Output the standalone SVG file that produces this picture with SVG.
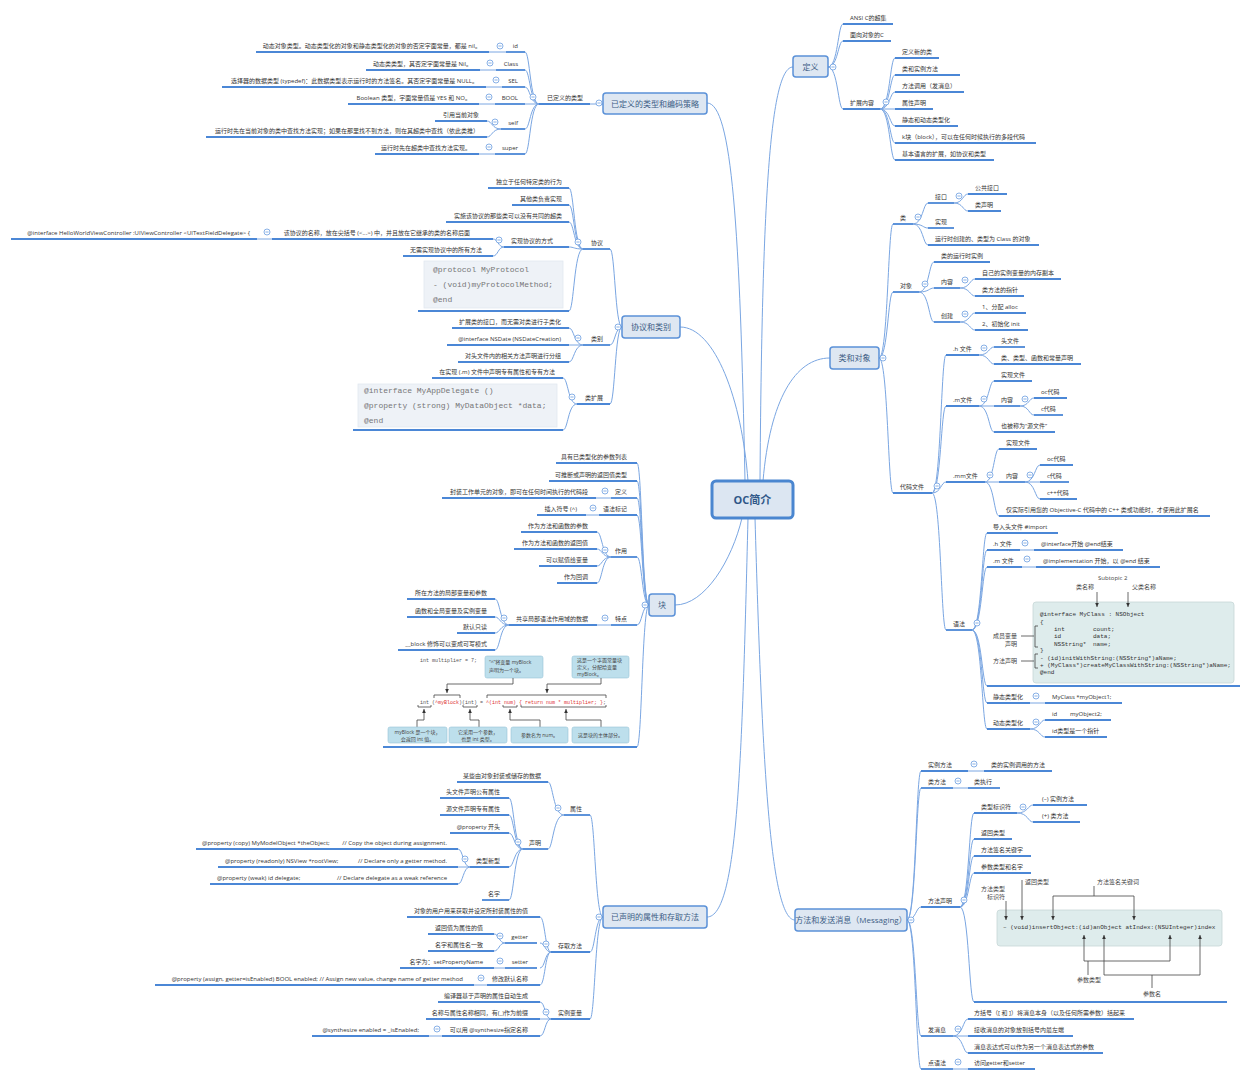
<svg xmlns="http://www.w3.org/2000/svg" width="1251" height="1080" viewBox="0 0 1251 1080">
<style>
text{font-family:"Open Sans","Noto Sans CJK SC",sans-serif;}
.t{font-size:6px;fill:#333;}
.e{text-anchor:end;}
.m{text-anchor:middle;}
.u{stroke:#4b87d6;stroke-width:1.8;fill:none;}
.c{stroke:#7aa6e2;stroke-width:1;fill:none;}
.mt{fill:#dee7f2;stroke:#5b91d8;stroke-width:1.5;}
.mtt{font-size:8px;fill:#3d5d85;text-anchor:middle;}
.code{font-family:"Liberation Mono",monospace;}
.pc{font-size:8px;fill:#777;}
.cc{font-size:6px;fill:#333;}
.box{fill:#deecec;stroke:#c7d7d7;stroke-width:0.8;}
.cb{fill:#eef2f7;stroke:#e2e8ef;stroke-width:0.8;}
.bb{fill:#bddfec;stroke:#98c4d6;stroke-width:0.6;}
.bt{font-size:5px;fill:#444;}
.ar{stroke:#444;stroke-width:0.8;fill:none;}
.gl{font-size:6px;fill:#444;}
</style>
<defs>
<g id="col"><circle r="3" fill="#fff" stroke="#6b9de0" stroke-width="0.8"/><line x1="-1.6" y1="0" x2="1.6" y2="0" stroke="#6b9de0" stroke-width="0.8"/></g>
<marker id="ah" markerWidth="5" markerHeight="5" refX="4" refY="2.5" orient="auto" markerUnits="userSpaceOnUse"><path d="M0,0.7 L4,2.5 L0,4.3 z" fill="#333"/></marker>
</defs>
<rect width="1251" height="1080" fill="#fff"/>

<g id="connectors">
<path class="c" d="M760,481 C762,200 770,67 793,67"/>
<path class="c" d="M745,481 C740,230 732,103 707,103"/>
<path class="c" d="M748,481 C742,400 715,327 680,327"/>
<path class="c" d="M763,481 C770,400 795,358 830,358"/>
<path class="c" d="M742,518 C732,560 705,605 675,605"/>
<path class="c" d="M748,518 C742,760 738,917 707,917"/>
<path class="c" d="M755,518 C762,760 770,920 795,920"/>

<path class="c" d="M828,67 C838,67 838,24 843,24 M828,67 C838,67 838,41 843,41 M828,67 C838,67 838,109 843,109"/>
<path class="c" d="M880,109 C890,109 890,58 895,58 M880,109 C890,109 890,75 895,75 M880,109 C890,109 890,92 895,92 M880,109 H895 M880,109 C890,109 890,126 895,126 M880,109 C890,109 890,143 895,143 M880,109 C890,109 890,160 895,160"/>

<path class="c" d="M603,104 H590"/>
<path class="c" d="M539,104 C530,104 530,52 525,52 M539,104 C530,104 530,70 525,70 M539,104 C530,104 530,87 525,87 M539,104 H525 M539,104 C530,104 530,129 525,129 M539,104 C530,104 530,154 525,154"/>
<path class="c" d="M506,52H489 M496,70H480 M502,87H486 M495,104H479 M495,154H479"/>
<path class="c" d="M501,129 C492,129 492,121 487,121 M501,129 C492,129 492,137 487,137"/>

<path class="c" d="M622,327 C615,327 615,249 610,249 M622,327 C615,327 615,345 610,345 M622,327 C615,327 615,404 610,404"/>
<path class="c" d="M583,249 C574,249 574,188 569,188 M583,249 C574,249 574,205 569,205 M583,249 C574,249 574,222 569,222 M583,249 C574,249 574,247 569,247 M583,249 C574,249 574,311 569,311"/>
<path class="c" d="M504,247 C498,247 498,239 493,239 M504,247 C498,247 498,256 493,256 M272,239H257"/>
<path class="c" d="M583,345 C574,345 574,328 569,328 M583,345 H569 M583,345 C574,345 574,362 569,362"/>
<path class="c" d="M577,404 C568,404 568,378 563,378 M577,404 C568,404 568,430 563,430"/>

<path class="c" d="M649,605 C642,605 642,463 637,463 M649,605 C642,605 642,481 637,481 M649,605 C642,605 642,498 637,498 M649,605 C642,605 642,515 637,515 M649,605 C642,605 642,557 637,557 M649,605 C642,605 642,625 637,625 M649,605 C642,605 642,747 637,747"/>
<path class="c" d="M611,498H596 M599,515H586 M611,625H597"/>
<path class="c" d="M611,557 C602,557 602,532 597,532 M611,557 C602,557 602,549 597,549 M611,557 C602,557 602,566 597,566 M611,557 C602,557 602,583 597,583"/>
<path class="c" d="M509,625 C500,625 500,599 495,599 M509,625 C500,625 500,617 495,617 M509,625 C500,625 500,633 495,633 M509,625 C500,625 500,650 495,650"/>

<path class="c" d="M603,917 C595,917 595,815 590,815 M603,917 C595,917 595,952 590,952 M603,917 C595,917 595,1019 590,1019"/>
<path class="c" d="M564,815 C553,815 553,782 548,782 M564,815 C553,815 553,849 548,849"/>
<path class="c" d="M523,849 C514,849 514,798 509,798 M523,849 C514,849 514,815 509,815 M523,849 C514,849 514,833 509,833 M523,849 C514,849 514,867 509,867 M523,849 C514,849 514,900 509,900"/>
<path class="c" d="M470,867 C463,867 463,849 458,849 M470,867 H458 M470,867 C463,867 463,884 458,884"/>
<path class="c" d="M551,952 C545,952 545,917 540,917 M551,952 C545,952 545,943 540,943 M551,952 C545,952 545,968 540,968 M551,952 C545,952 545,985 540,985"/>
<path class="c" d="M505,943 C499,943 499,934 494,934 M505,943 C499,943 499,951 494,951 M505,968H494 M487,985H474"/>
<path class="c" d="M551,1019 C545,1019 545,1002 540,1002 M551,1019 H540 M551,1019 C545,1019 545,1036 540,1036 M442,1036H429"/>

<path class="c" d="M879,358 C888,358 888,224 893,224 M879,358 C888,358 888,292 893,292 M879,358 C888,358 888,493 893,493"/>
<path class="c" d="M913,224 C923,224 923,203 928,203 M913,224 C923,224 923,228 928,228 M913,224 C923,224 923,245 928,245"/>
<path class="c" d="M954,203 C963,203 963,194 968,194 M954,203 C963,203 963,211 968,211"/>
<path class="c" d="M919,292 C929,292 929,262 934,262 M919,292 C929,292 929,288 934,288 M919,292 C929,292 929,322 934,322"/>
<path class="c" d="M960,288 C970,288 970,279 975,279 M960,288 C970,288 970,296 975,296 M960,322 C970,322 970,313 975,313 M960,322 C970,322 970,330 975,330"/>
<path class="c" d="M932,493 C941,493 941,355 946,355 M932,493 C941,493 941,406 946,406 M932,493 C941,493 941,482 946,482 M932,493 C941,493 941,630 946,630"/>
<path class="c" d="M979,355 C989,355 989,347 994,347 M979,355 C989,355 989,364 994,364"/>
<path class="c" d="M979,406 C989,406 989,381 994,381 M979,406 H994 M979,406 C989,406 989,432 994,432"/>
<path class="c" d="M1020,406 C1029,406 1029,398 1034,398 M1020,406 C1029,406 1029,415 1034,415"/>
<path class="c" d="M985,482 C994,482 994,449 999,449 M985,482 H999 M985,482 C994,482 994,516 999,516"/>
<path class="c" d="M1025,482 C1035,482 1035,465 1040,465 M1025,482 H1040 M1025,482 C1035,482 1035,499 1040,499"/>
<path class="c" d="M972,630 C982,630 982,533 987,533 M972,630 C982,630 982,550 987,550 M972,630 C982,630 982,567 987,567 M972,630 C982,630 982,686 987,686 M972,630 C982,630 982,703 987,703 M972,630 C982,630 982,729 987,729"/>
<path class="c" d="M1020,550H1034 M1022,567H1036 M1030,703H1045"/>
<path class="c" d="M1030,729 C1040,729 1040,720 1045,720 M1030,729 C1040,729 1040,737 1045,737"/>

<path class="c" d="M907,920 C916,920 916,771 921,771 M907,920 C916,920 916,788 921,788 M907,920 C916,920 916,907 921,907 M907,920 C916,920 916,1036 921,1036 M907,920 C916,920 916,1069 921,1069"/>
<path class="c" d="M968,771H984 M953,788H968 M953,1069H968"/>
<path class="c" d="M960,907 C969,907 969,813 974,813 M960,907 C969,907 969,839 974,839 M960,907 C969,907 969,856 974,856 M960,907 C969,907 969,873 974,873 M960,907 C969,907 969,1002 974,1002"/>
<path class="c" d="M1017,813 C1028,813 1028,805 1033,805 M1017,813 C1028,813 1028,822 1033,822"/>
<path class="c" d="M953,1036 C963,1036 963,1019 968,1019 M953,1036 H968 M953,1036 C963,1036 963,1053 968,1053"/>
</g>

<g id="center"><rect x="712" y="481" width="81" height="37" rx="4" fill="#dce6f2" stroke="#4a86d0" stroke-width="3"/><text x="752.5" y="503.5" font-size="11" font-weight="bold" fill="#2f5788" text-anchor="middle">OC简介</text></g>

<g id="topic-def"><rect class="mt" x="793" y="56" width="35" height="21" rx="3"/><text class="mtt" x="810.5" y="69.5">定义</text><use href="#col" x="833" y="67"/></g>
<g id="n-ansi"><path class="u" d="M843,24H893"/><text class="t" x="850" y="20">ANSI C的超集</text></g>
<g id="n-ooc"><path class="u" d="M843,41H891"/><text class="t" x="850" y="37">面向对象的C</text></g>
<g id="n-ext"><path class="u" d="M843,109H880"/><text class="t" x="850" y="105">扩展内容</text><use href="#col" x="886" y="102"/></g>
<g id="n-ext1"><path class="u" d="M895,58H939"/><text class="t" x="902" y="54">定义新的类</text></g>
<g id="n-ext2"><path class="u" d="M895,75H960"/><text class="t" x="902" y="71">类和实例方法</text></g>
<g id="n-ext3"><path class="u" d="M895,92H964"/><text class="t" x="902" y="88">方法调用（发消息）</text></g>
<g id="n-ext4"><path class="u" d="M895,109H933"/><text class="t" x="902" y="105">属性声明</text></g>
<g id="n-ext5"><path class="u" d="M895,126H958"/><text class="t" x="902" y="122">静态和动态类型化</text></g>
<g id="n-ext6"><path class="u" d="M895,143H1036"/><text class="t" x="902" y="139">k块（block），可以在任何时候执行的多段代码</text></g>
<g id="n-ext7"><path class="u" d="M895,160H994"/><text class="t" x="902" y="156">基本语言的扩展，如协议和类型</text></g>

<g id="topic-types"><rect class="mt" x="603" y="93" width="104" height="21" rx="3"/><text class="mtt" x="655" y="106.5">已定义的类型和编码策略</text><use href="#col" x="599" y="103"/></g>
<g id="n-deftypes"><path class="u" d="M539,104H590"/><text class="t e" x="583" y="100">已定义的类型</text><use href="#col" x="533" y="97"/></g>
<g id="n-id"><path class="u" d="M506,52H525"/><text class="t e" x="518" y="48">id</text><use href="#col" x="500" y="46"/></g>
<g id="n-id-d"><path class="u" d="M256,52H489"/><text class="t e" x="481" y="48">动态对象类型。动态类型化的对象和静态类型化的对象的否定字面常量，都是 nil。</text></g>
<g id="n-class"><path class="u" d="M496,70H525"/><text class="t e" x="518" y="66">Class</text><use href="#col" x="490" y="63"/></g>
<g id="n-class-d"><path class="u" d="M366,70H480"/><text class="t e" x="472" y="66">动态类类型，其否定字面常量是 Nil。</text></g>
<g id="n-sel"><path class="u" d="M502,87H525"/><text class="t e" x="518" y="83">SEL</text><use href="#col" x="496" y="80"/></g>
<g id="n-sel-d"><path class="u" d="M222,87H486"/><text class="t e" x="478" y="83">选择器的数据类型 (typedef)：此数据类型表示运行时的方法签名。其否定字面常量是 NULL。</text></g>
<g id="n-bool"><path class="u" d="M495,104H525"/><text class="t e" x="518" y="100">BOOL</text><use href="#col" x="489" y="97"/></g>
<g id="n-bool-d"><path class="u" d="M348,104H479"/><text class="t e" x="471" y="100">Boolean 类型，字面常量值是 YES 和 NO。</text></g>
<g id="n-self"><path class="u" d="M501,129H525"/><text class="t e" x="518" y="125">self</text><use href="#col" x="495" y="122"/></g>
<g id="n-self-1"><path class="u" d="M435,121H487"/><text class="t e" x="479" y="117">引用当前对象</text></g>
<g id="n-self-2"><path class="u" d="M206,137H487"/><text class="t e" x="479" y="133">运行时先在当前对象的类中查找方法实现；如果在那里找不到方法，则在其超类中查找（依此类推）</text></g>
<g id="n-super"><path class="u" d="M495,154H525"/><text class="t e" x="518" y="150">super</text><use href="#col" x="489" y="147"/></g>
<g id="n-super-d"><path class="u" d="M375,154H479"/><text class="t e" x="471" y="150">运行时先在超类中查找方法实现。</text></g>

<g id="topic-proto"><rect class="mt" x="622" y="316" width="58" height="22" rx="3"/><text class="mtt" x="651" y="330">协议和类别</text><use href="#col" x="618" y="327"/></g>
<g id="n-proto"><path class="u" d="M583,249H610"/><text class="t e" x="603" y="245">协议</text><use href="#col" x="578" y="242"/></g>
<g id="n-p1"><path class="u" d="M488,188H569"/><text class="t e" x="562" y="184">独立于任何特定类的行为</text></g>
<g id="n-p2"><path class="u" d="M512,205H569"/><text class="t e" x="562" y="201">其他类负责实现</text></g>
<g id="n-p3"><path class="u" d="M446,222H569"/><text class="t e" x="562" y="218">实施该协议的那些类可以没有共同的超类</text></g>
<g id="n-p4"><path class="u" d="M504,247H569"/><text class="t e" x="553" y="243">实现协议的方式</text><use href="#col" x="499" y="240"/></g>
<g id="n-p4a"><path class="u" d="M272,239H493"/><text class="t e" x="470" y="235">该协议的名称，放在尖括号 (&lt;...&gt;) 中，并且放在它继承的类的名称后面</text><use href="#col" x="267" y="232"/></g>
<g id="n-p4a1"><path class="u" d="M11,239H257"/><text class="t e" x="250" y="235">@interface HelloWorldViewController :UIViewController &lt;UITextFieldDelegate&gt; {</text></g>
<g id="n-p4b"><path class="u" d="M403,256H493"/><text class="t e" x="482" y="252">无需实现协议中的所有方法</text></g>
<g id="n-p5"><path class="u" d="M418,311H569"/><rect class="cb" x="424" y="261" width="139" height="47"/><text class="code pc" x="433" y="272">@protocol MyProtocol</text><text class="code pc" x="433" y="287">- (void)myProtocolMethod;</text><text class="code pc" x="433" y="302">@end</text></g>
<g id="n-cat"><path class="u" d="M583,345H610"/><text class="t e" x="603" y="341">类别</text><use href="#col" x="578" y="338"/></g>
<g id="n-c1"><path class="u" d="M452,328H569"/><text class="t e" x="561" y="324">扩展类的接口，而无需对类进行子类化</text></g>
<g id="n-c2"><path class="u" d="M447,345H569"/><text class="t e" x="561" y="341">@interface NSDate (NSDateCreation)</text></g>
<g id="n-c3"><path class="u" d="M458,362H569"/><text class="t e" x="561" y="358">对头文件内的相关方法声明进行分组</text></g>
<g id="n-cext"><path class="u" d="M577,404H610"/><text class="t e" x="603" y="400">类扩展</text><use href="#col" x="572" y="397"/></g>
<g id="n-ce1"><path class="u" d="M432,378H563"/><text class="t e" x="555" y="374">在实现 (.m) 文件中声明专有属性和专有方法</text></g>
<g id="n-ce2"><path class="u" d="M353,430H563"/><rect class="cb" x="358" y="384" width="199" height="43"/><text class="code pc" x="364" y="393">@interface MyAppDelegate ()</text><text class="code pc" x="364" y="408">@property (strong) MyDataObject *data;</text><text class="code pc" x="364" y="423">@end</text></g>

<g id="topic-block"><rect class="mt" x="649" y="594" width="26" height="22" rx="3"/><text class="mtt" x="662" y="608">块</text><use href="#col" x="645" y="605"/></g>
<g id="n-b1"><path class="u" d="M556,463H637"/><text class="t e" x="627" y="459">具有已类型化的参数列表</text></g>
<g id="n-b2"><path class="u" d="M549,481H637"/><text class="t e" x="627" y="477">可推断或声明的返回值类型</text></g>
<g id="n-b3"><path class="u" d="M611,498H637"/><text class="t e" x="627" y="494">定义</text><use href="#col" x="605" y="491"/></g>
<g id="n-b3a"><path class="u" d="M442,498H596"/><text class="t e" x="588" y="494">封装工作单元的对象，即可在任何时间执行的代码段</text></g>
<g id="n-b4"><path class="u" d="M599,515H637"/><text class="t e" x="627" y="511">语法标记</text><use href="#col" x="593" y="508"/></g>
<g id="n-b4a"><path class="u" d="M537,515H586"/><text class="t e" x="577" y="511">插入符号 (^)</text></g>
<g id="n-b5"><path class="u" d="M611,557H637"/><text class="t e" x="627" y="553">作用</text><use href="#col" x="605" y="550"/></g>
<g id="n-b5a"><path class="u" d="M521,532H597"/><text class="t e" x="588" y="528">作为方法和函数的参数</text></g>
<g id="n-b5b"><path class="u" d="M514,549H597"/><text class="t e" x="588" y="545">作为方法和函数的返回值</text></g>
<g id="n-b5c"><path class="u" d="M539,566H597"/><text class="t e" x="588" y="562">可以赋值给变量</text></g>
<g id="n-b5d"><path class="u" d="M557,583H597"/><text class="t e" x="588" y="579">作为回调</text></g>
<g id="n-b6"><path class="u" d="M611,625H637"/><text class="t e" x="627" y="621">特点</text><use href="#col" x="605" y="618"/></g>
<g id="n-b6a"><path class="u" d="M509,625H597"/><text class="t e" x="588" y="621">共享局部语法作用域的数据</text><use href="#col" x="504" y="618"/></g>
<g id="n-b6a1"><path class="u" d="M407,599H495"/><text class="t e" x="487" y="595">所在方法的局部变量和参数</text></g>
<g id="n-b6a2"><path class="u" d="M407,617H495"/><text class="t e" x="487" y="613">函数和全局变量及实例变量</text></g>
<g id="n-b6a3"><path class="u" d="M457,633H495"/><text class="t e" x="487" y="629">默认只读</text></g>
<g id="n-b6a4"><path class="u" d="M398,650H495"/><text class="t e" x="487" y="646">__block 修饰可以变成可写模式</text></g>
<g id="n-block-code">
<path class="u" d="M383,747H637"/>
<text class="code" font-size="5" fill="#555" x="420" y="662">int multiplier = 7;</text>
<rect class="bb" x="485" y="656" width="58" height="22" rx="2"/>
<text class="bt" x="489" y="664">“^”将变量 myBlock</text>
<text class="bt" x="489" y="672">声明为一个块。</text>
<rect class="bb" x="572" y="656" width="57" height="22" rx="2"/>
<text class="bt" x="577" y="662">这是一个字面常量块</text>
<text class="bt" x="577" y="669">定义，分配给变量</text>
<text class="bt" x="577" y="676">myBlock。</text>
<path class="ar" d="M513,678V684H447V693" marker-end="url(#ah)"/>
<path class="ar" d="M601,678V684H547V693" marker-end="url(#ah)"/>
<path class="ar" d="M434,698V695H460V698 M487,698V695H606V698"/>
<text class="code" font-size="5" fill="#555" x="420" y="704" xml:space="preserve">int (<tspan fill="#d33">^myBlock</tspan>)(int) = <tspan fill="#d33">^(int num) { return num * multiplier; }</tspan>;</text>
<path class="ar" d="M418,705V707H431V705 M463,705V707H477V705 M503,705V707H517V705 M521,705V707H606V705"/>
<path class="ar" d="M417,727V720H424V709" marker-end="url(#ah)"/>
<path class="ar" d="M479,727V720H470V709" marker-end="url(#ah)"/>
<path class="ar" d="M540,727V720H510V709" marker-end="url(#ah)"/>
<path class="ar" d="M601,727V720H566V709" marker-end="url(#ah)"/>
<rect class="bb" x="388" y="727" width="59" height="16" rx="2"/>
<text class="bt m" x="417.5" y="734">myBlock 是一个块，</text>
<text class="bt m" x="417.5" y="741">会返回 int 值。</text>
<rect class="bb" x="449" y="727" width="58" height="16" rx="2"/>
<text class="bt m" x="478" y="734">它采用一个参数，</text>
<text class="bt m" x="478" y="741">也是 int 类型。</text>
<rect class="bb" x="511" y="727" width="57" height="16" rx="2"/>
<text class="bt m" x="539.5" y="737">参数名为 num。</text>
<rect class="bb" x="572" y="727" width="57" height="16" rx="2"/>
<text class="bt m" x="600.5" y="737">这是块的主体部分。</text>
</g>

<g id="topic-prop"><rect class="mt" x="603" y="906" width="104" height="22" rx="3"/><text class="mtt" x="655" y="920">已声明的属性和存取方法</text><use href="#col" x="599" y="917"/></g>
<g id="n-attr"><path class="u" d="M564,815H590"/><text class="t e" x="582" y="811">属性</text><use href="#col" x="558" y="808"/></g>
<g id="n-attr1"><path class="u" d="M457,782H548"/><text class="t e" x="541" y="778">某些由对象封装或储存的数据</text></g>
<g id="n-decl"><path class="u" d="M523,849H548"/><text class="t e" x="541" y="845">声明</text><use href="#col" x="518" y="842"/></g>
<g id="n-decl1"><path class="u" d="M440,798H509"/><text class="t e" x="500" y="794">头文件声明公有属性</text></g>
<g id="n-decl2"><path class="u" d="M440,815H509"/><text class="t e" x="500" y="811">源文件声明专有属性</text></g>
<g id="n-decl3"><path class="u" d="M450,833H509"/><text class="t e" x="500" y="829">@property 开头</text></g>
<g id="n-decl4"><path class="u" d="M470,867H509"/><text class="t e" x="500" y="863">类型新型</text><use href="#col" x="465" y="859"/></g>
<g id="n-decl4a"><path class="u" d="M196,849H458"/><text class="t" x="202" y="845">@property (copy) MyModelObject *theObject;</text><text class="t e" x="447" y="845">// Copy the object during assignment.</text></g>
<g id="n-decl4b"><path class="u" d="M218,867H458"/><text class="t" x="225" y="863">@property (readonly) NSView *rootView;</text><text class="t e" x="447" y="863">// Declare only a getter method.</text></g>
<g id="n-decl4c"><path class="u" d="M210,884H458"/><text class="t" x="217" y="880">@property (weak) id delegate;</text><text class="t e" x="447" y="880">// Declare delegate as a weak reference</text></g>
<g id="n-decl5"><path class="u" d="M482,900H509"/><text class="t e" x="500" y="896">名字</text></g>
<g id="n-acc"><path class="u" d="M551,952H590"/><text class="t e" x="582" y="948">存取方法</text><use href="#col" x="546" y="944"/></g>
<g id="n-acc1"><path class="u" d="M407,917H540"/><text class="t e" x="528" y="913">对象的用户用来获取并设定所封装属性的值</text></g>
<g id="n-getter"><path class="u" d="M505,943H537"/><text class="t e" x="528" y="939">getter</text><use href="#col" x="500" y="936"/></g>
<g id="n-getter1"><path class="u" d="M428,934H494"/><text class="t e" x="483" y="930">返回值为属性的值</text></g>
<g id="n-getter2"><path class="u" d="M428,951H494"/><text class="t e" x="483" y="947">名字和属性名一致</text></g>
<g id="n-setter"><path class="u" d="M505,968H537"/><text class="t e" x="528" y="964">setter</text><use href="#col" x="500" y="961"/></g>
<g id="n-setter1"><path class="u" d="M400,968H494"/><text class="t e" x="483" y="964">名字为：setPropertyName</text></g>
<g id="n-rename"><path class="u" d="M487,985H540"/><text class="t e" x="528" y="981">修改默认名称</text><use href="#col" x="481" y="978"/></g>
<g id="n-rename1"><path class="u" d="M155,985H474"/><text class="t e" x="463" y="981">@property (assign, getter=isEnabled) BOOL enabled; // Assign new value, change name of getter method</text></g>
<g id="n-ivar"><path class="u" d="M551,1019H590"/><text class="t e" x="582" y="1015">实例变量</text><use href="#col" x="546" y="1012"/></g>
<g id="n-ivar1"><path class="u" d="M438,1002H540"/><text class="t e" x="528" y="998">编译器基于声明的属性自动生成</text></g>
<g id="n-ivar2"><path class="u" d="M426,1019H540"/><text class="t e" x="528" y="1015">名称与属性名称相同，有(_)作为前缀</text></g>
<g id="n-ivar3"><path class="u" d="M442,1036H540"/><text class="t e" x="528" y="1032">可以用 @synthesize指定名称</text><use href="#col" x="437" y="1029"/></g>
<g id="n-ivar3a"><path class="u" d="M312,1036H429"/><text class="t e" x="419" y="1032">@synthesize enabled = _isEnabled;</text></g>

<g id="topic-class"><rect class="mt" x="830" y="347" width="49" height="22" rx="3"/><text class="mtt" x="854.5" y="361">类和对象</text><use href="#col" x="883" y="358"/></g>
<g id="n-cls"><path class="u" d="M893,224H913"/><text class="t" x="900" y="220">类</text><use href="#col" x="918" y="217"/></g>
<g id="n-cls1"><path class="u" d="M928,203H954"/><text class="t" x="935" y="199">接口</text><use href="#col" x="959" y="196"/></g>
<g id="n-cls1a"><path class="u" d="M968,194H1007"/><text class="t" x="975" y="190">公共接口</text></g>
<g id="n-cls1b"><path class="u" d="M968,211H1001"/><text class="t" x="975" y="207">类声明</text></g>
<g id="n-cls2"><path class="u" d="M928,228H954"/><text class="t" x="935" y="224">实现</text></g>
<g id="n-cls3"><path class="u" d="M928,245H1039"/><text class="t" x="935" y="241">运行时创建的、类型为 Class 的对象</text></g>
<g id="n-obj"><path class="u" d="M893,292H919"/><text class="t" x="900" y="288">对象</text><use href="#col" x="925" y="284"/></g>
<g id="n-obj1"><path class="u" d="M934,262H990"/><text class="t" x="941" y="258">类的运行时实例</text></g>
<g id="n-obj2"><path class="u" d="M934,288H960"/><text class="t" x="941" y="284">内容</text><use href="#col" x="965" y="280"/></g>
<g id="n-obj2a"><path class="u" d="M975,279H1061"/><text class="t" x="982" y="275">自己的实例变量的内存副本</text></g>
<g id="n-obj2b"><path class="u" d="M975,296H1024"/><text class="t" x="982" y="292">类方法的指针</text></g>
<g id="n-obj3"><path class="u" d="M934,322H960"/><text class="t" x="941" y="318">创建</text><use href="#col" x="965" y="314"/></g>
<g id="n-obj3a"><path class="u" d="M975,313H1026"/><text class="t" x="982" y="309">1、分配 alloc</text></g>
<g id="n-obj3b"><path class="u" d="M975,330H1028"/><text class="t" x="982" y="326">2、初始化 init</text></g>
<g id="n-code"><path class="u" d="M893,493H932"/><text class="t" x="900" y="489">代码文件</text><use href="#col" x="937" y="486"/></g>
<g id="n-hf"><path class="u" d="M946,355H979"/><text class="t" x="953" y="351">.h 文件</text><use href="#col" x="984" y="348"/></g>
<g id="n-hf1"><path class="u" d="M994,347H1025"/><text class="t" x="1001" y="343">头文件</text></g>
<g id="n-hf2"><path class="u" d="M994,364H1081"/><text class="t" x="1001" y="360">类、类型、函数和常量声明</text></g>
<g id="n-mf"><path class="u" d="M946,406H979"/><text class="t" x="953" y="402">.m文件</text><use href="#col" x="984" y="399"/></g>
<g id="n-mf1"><path class="u" d="M994,381H1032"/><text class="t" x="1001" y="377">实现文件</text></g>
<g id="n-mf2"><path class="u" d="M994,406H1020"/><text class="t" x="1001" y="402">内容</text><use href="#col" x="1025" y="399"/></g>
<g id="n-mf2a"><path class="u" d="M1034,398H1067"/><text class="t" x="1041" y="394">oc代码</text></g>
<g id="n-mf2b"><path class="u" d="M1034,415H1063"/><text class="t" x="1041" y="411">c代码</text></g>
<g id="n-mf3"><path class="u" d="M994,432H1055"/><text class="t" x="1001" y="428">也被称为“源文件”</text></g>
<g id="n-mm"><path class="u" d="M946,482H985"/><text class="t" x="953" y="478">.mm文件</text><use href="#col" x="990" y="475"/></g>
<g id="n-mm1"><path class="u" d="M999,449H1037"/><text class="t" x="1006" y="445">实现文件</text></g>
<g id="n-mm2"><path class="u" d="M999,482H1025"/><text class="t" x="1006" y="478">内容</text><use href="#col" x="1030" y="475"/></g>
<g id="n-mm2a"><path class="u" d="M1040,465H1073"/><text class="t" x="1047" y="461">oc代码</text></g>
<g id="n-mm2b"><path class="u" d="M1040,482H1069"/><text class="t" x="1047" y="478">c代码</text></g>
<g id="n-mm2c"><path class="u" d="M1040,499H1077"/><text class="t" x="1047" y="495">c++代码</text></g>
<g id="n-mm3"><path class="u" d="M999,516H1210"/><text class="t" x="1006" y="512">仅实际引用您的 Objective-C 代码中的 C++ 类或功能时，才使用此扩展名</text></g>
<g id="n-syn"><path class="u" d="M946,630H972"/><text class="t" x="953" y="626">语法</text><use href="#col" x="977" y="623"/></g>
<g id="n-syn1"><path class="u" d="M987,533H1058"/><text class="t" x="993" y="529">导入头文件 #import</text></g>
<g id="n-syn2"><path class="u" d="M987,550H1020"/><text class="t" x="993" y="546">.h 文件</text><use href="#col" x="1025" y="543"/></g>
<g id="n-syn2a"><path class="u" d="M1034,550H1123"/><text class="t" x="1041" y="546">@interface开始 @end结束</text></g>
<g id="n-syn3"><path class="u" d="M987,567H1022"/><text class="t" x="993" y="563">.m 文件</text><use href="#col" x="1027" y="559"/></g>
<g id="n-syn3a"><path class="u" d="M1036,567H1160"/><text class="t" x="1043" y="563">@implementation 开始，以 @end 结束</text></g>
<g id="n-class-code">
<path class="u" d="M987,686H1240"/>
<text class="gl" x="1098" y="580">Subtopic 2</text>
<text class="gl" x="1076" y="589">类名称</text>
<text class="gl" x="1132" y="589">父类名称</text>
<rect class="box" x="1033" y="602" width="201" height="81" rx="3"/>
<path class="ar" d="M1097,592V607" marker-end="url(#ah)"/>
<path class="ar" d="M1128,592V607" marker-end="url(#ah)"/>
<text class="code cc" x="1040" y="616">@interface MyClass : NSObject</text>
<text class="code cc" x="1040" y="624">{</text>
<text class="code cc" x="1054" y="631">int</text><text class="code cc" x="1093" y="631">count;</text>
<text class="code cc" x="1054" y="638">id</text><text class="code cc" x="1093" y="638">data;</text>
<text class="code cc" x="1054" y="646">NSString*</text><text class="code cc" x="1093" y="646">name;</text>
<text class="code cc" x="1040" y="652">}</text>
<text class="code cc" x="1040" y="660">- (id)initWithString:(NSString*)aName;</text>
<text class="code cc" x="1040" y="667">+ (MyClass*)createMyClassWithString:(NSString*)aName;</text>
<text class="code cc" x="1040" y="674">@end</text>
<text class="gl e" x="1017" y="638">成员变量</text>
<text class="gl e" x="1017" y="646">声明</text>
<path class="ar" d="M1021,636H1034 M1038,626H1035V647H1038"/>
<text class="gl e" x="1017" y="663">方法声明</text>
<path class="ar" d="M1021,661H1034 M1038,654H1035V668H1038"/>
</g>
<g id="n-static"><path class="u" d="M987,703H1030"/><text class="t" x="993" y="699">静态类型化</text><use href="#col" x="1036" y="696"/></g>
<g id="n-static1"><path class="u" d="M1045,703H1122"/><text class="t" x="1052" y="699">MyClass *myObject1;</text></g>
<g id="n-dyn"><path class="u" d="M987,729H1030"/><text class="t" x="993" y="725">动态类型化</text><use href="#col" x="1036" y="722"/></g>
<g id="n-dyn1"><path class="u" d="M1045,720H1111"/><text class="t" x="1052" y="716">id</text><text class="t" x="1070" y="716">myObject2;</text></g>
<g id="n-dyn2"><path class="u" d="M1045,737H1107"/><text class="t" x="1052" y="733">id类型是一个指针</text></g>

<g id="topic-msg"><rect class="mt" x="795" y="909" width="112" height="22" rx="3"/><text class="mtt" x="851" y="923" font-size="7">方法和发送消息（Messaging）</text><use href="#col" x="911" y="920"/></g>
<g id="n-im"><path class="u" d="M921,771H968"/><text class="t" x="928" y="767">实例方法</text><use href="#col" x="974" y="764"/></g>
<g id="n-im1"><path class="u" d="M984,771H1052"/><text class="t" x="991" y="767">类的实例调用的方法</text></g>
<g id="n-cm"><path class="u" d="M921,788H953"/><text class="t" x="928" y="784">类方法</text><use href="#col" x="958" y="781"/></g>
<g id="n-cm1"><path class="u" d="M968,788H1000"/><text class="t" x="974" y="784">类执行</text></g>
<g id="n-md"><path class="u" d="M921,907H960"/><text class="t" x="928" y="903">方法声明</text><use href="#col" x="964" y="900"/></g>
<g id="n-md1"><path class="u" d="M974,813H1017"/><text class="t" x="981" y="809">类型标识符</text><use href="#col" x="1023" y="807"/></g>
<g id="n-md1a"><path class="u" d="M1033,805H1087"/><text class="t" x="1042" y="801">(–) 实例方法</text></g>
<g id="n-md1b"><path class="u" d="M1033,822H1080"/><text class="t" x="1042" y="818">(+) 类方法</text></g>
<g id="n-md2"><path class="u" d="M974,839H1012"/><text class="t" x="981" y="835">返回类型</text></g>
<g id="n-md3"><path class="u" d="M974,856H1031"/><text class="t" x="981" y="852">方法签名关键字</text></g>
<g id="n-md4"><path class="u" d="M974,873H1031"/><text class="t" x="981" y="869">参数类型和名字</text></g>
<g id="n-method-code">
<path class="u" d="M974,1002H1227"/>
<rect class="box" x="997" y="910" width="225" height="36" rx="3"/>
<text class="gl" x="981" y="891">方法类型</text>
<text class="gl" x="987" y="899">标识符</text>
<path class="ar" d="M1006,901V920" marker-end="url(#ah)"/>
<text class="gl" x="1025" y="884">返回类型</text>
<path class="ar" d="M1022,880V920" marker-end="url(#ah)"/>
<text class="gl" x="1097" y="884">方法签名关键词</text>
<path class="ar" d="M1094,886V896 M1053,896H1134"/>
<path class="ar" d="M1053,896V920" marker-end="url(#ah)"/>
<path class="ar" d="M1134,896V920" marker-end="url(#ah)"/>
<text class="code cc" font-size="5.7" x="1003" y="929">– (void)insertObject:(id)anObject atIndex:(NSUInteger)index</text>
<path class="ar" d="M1088,975V961 M1084,961H1170"/>
<path class="ar" d="M1084,961V935" marker-end="url(#ah)"/>
<path class="ar" d="M1170,961V935" marker-end="url(#ah)"/>
<text class="gl" x="1077" y="982">参数类型</text>
<path class="ar" d="M1152,988V975 M1104,975H1200"/>
<path class="ar" d="M1104,975V935" marker-end="url(#ah)"/>
<path class="ar" d="M1200,975V935" marker-end="url(#ah)"/>
<text class="gl" x="1143" y="996">参数名</text>
</g>
<g id="n-send"><path class="u" d="M921,1036H953"/><text class="t" x="928" y="1032">发消息</text><use href="#col" x="958" y="1029"/></g>
<g id="n-send1"><path class="u" d="M968,1019H1134"/><text class="t" x="974" y="1015">方括号（[ 和 ]）将消息本身（以及任何所需参数）括起来</text></g>
<g id="n-send2"><path class="u" d="M968,1036H1073"/><text class="t" x="974" y="1032">接收消息的对象放到括号内最左端</text></g>
<g id="n-send3"><path class="u" d="M968,1053H1103"/><text class="t" x="974" y="1049">消息表达式可以作为另一个消息表达式的参数</text></g>
<g id="n-dot"><path class="u" d="M921,1069H953"/><text class="t" x="928" y="1065">点语法</text><use href="#col" x="958" y="1062"/></g>
<g id="n-dot1"><path class="u" d="M968,1069H1035"/><text class="t" x="974" y="1065">访问getter和setter</text></g>
</svg>
